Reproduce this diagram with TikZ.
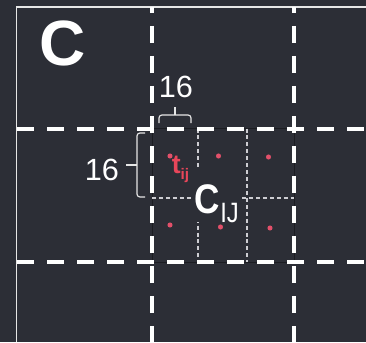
\documentclass[tikz,border=0pt]{standalone}
\usepackage{fontspec}
\setmainfont{Liberation Sans}
\newfontfamily\condfont[FakeStretch=0.85]{Liberation Sans}
\usetikzlibrary{positioning}
\definecolor{panelBg}{HTML}{2C2E36}
\definecolor{frameGray}{HTML}{E6E6E6}
\definecolor{cellDark}{HTML}{1C1D22}
\definecolor{subGray}{HTML}{CDCDD2}
\definecolor{tokRed}{HTML}{E8465A}
\definecolor{dotRed}{HTML}{E2506A}
\tikzset{
  gridLine/.style={white, line width=3pt, dash pattern=on 12.75pt off 9.75pt},
  subLine/.style={subGray, line width=0.9pt, dash pattern=on 3pt off 2.2pt},
  braceB/.style={frameGray, line width=0.9pt, rounded corners=2.2pt},
  numLbl/.style={text=white, font=\fontsize{23}{26}\selectfont,
                 inner sep=0pt, anchor=base west},
  token/.style={circle, fill=dotRed, inner sep=0pt, minimum size=3.8pt},
}

\begin{document}
\begin{tikzpicture}[x=0.75pt, y=0.75pt]
  \fill[panelBg] (0,0) rectangle (366,-342);
  \useasboundingbox (0,0) rectangle (366,-342);
  % frame
  \draw[frameGray, line width=1.1pt] (16.5,-342) -- (16.5,-7) -- (366,-7);
  % one cell, cut in 3x2
  \draw[cellDark, line width=0.75pt] (152,-128.5) rectangle (294,-262);
  \draw[subLine] (198,-128.5) -- (198,-262);
  \draw[subLine] (247,-128.5) -- (247,-262);
  \draw[subLine] (152,-198) -- (294,-198);
  % coarse grid
  \foreach \x in {152,294}
    \draw[gridLine, dash phase=8.25pt] (\x,-7) -- (\x,-342);
  \foreach \y in {128.5,262}
    \draw[gridLine] (17,-\y) -- (366,-\y);
  % tokens
  \foreach \x/\y [count=\i] in {170/156, 218.5/156, 268.5/157, 170/225, 220.5/227, 270/228}
    \node[token] (tok\i) at (\x,-\y) {};
  % labels
  \node[text=white, font=\bfseries\fontsize{48}{50}\selectfont, inner sep=0pt,
        anchor=base west] (panel) at (39,-66) {C};
  \node[numLbl] (wLbl) at (158.5,-98) {16};
  \node[numLbl] (hLbl) at (84.5,-180) {16};
  \node[text=tokRed, font=\bfseries\fontsize{20}{22}\selectfont, inner sep=0pt,
        anchor=base west] (tij) at (171.5,-173)
        {t\raisebox{-4.5pt}{\fontsize{11.5}{12}\selectfont ij}};
  \node[fill=panelBg, text=white, font=\condfont\bfseries\fontsize{31}{33}\selectfont,
        inner xsep=2pt, inner ysep=0pt, text height=33.75pt, text depth=6.75pt,
        anchor=base west] (cIJ) at (192,-213)
        {C\raisebox{-6.75pt}{\fontsize{21}{22}\selectfont\mdseries IJ}};
  % braces
  \coordinate (wA) at (159,-123);
  \coordinate (wB) at (191,-123);
  \coordinate (wT) at (175,-107);
  \coordinate (hA) at (145,-197);
  \coordinate (hB) at (145,-133);
  \coordinate (hT) at (126,-165);
  \draw[braceB] (wA) -- ++(0,8) -| (wB);
  \draw[braceB] (175,-115) -- (wT);
  \draw[braceB] (hA) -- ++(-8,0) |- (hB);
  \draw[braceB] (137,-165) -- (hT);
\end{tikzpicture}
\end{document}
